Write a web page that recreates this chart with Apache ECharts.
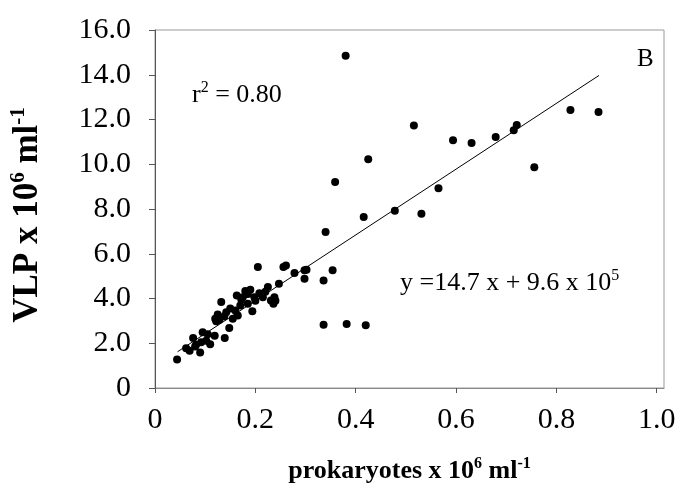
<!DOCTYPE html>
<html>
<head>
<meta charset="utf-8">
<script src="https://cdn.jsdelivr.net/npm/echarts@6/dist/echarts.min.js"></script>
<style>
  html, body { margin: 0; padding: 0; background: #fff; }
  #chart { width: 683px; height: 490px; }
</style>
</head>
<body>
<div id="chart"></div>
<script>
// prokaryotes (x 10^6 ml-1) and VLP (x 10^6 ml-1)
const prokaryotes = [
  0.380, 0.516, 0.594, 0.631, 0.679, 0.715, 0.721, 0.828, 0.884, 0.756,
  0.425, 0.359, 0.565, 0.416, 0.478, 0.531, 0.340, 0.302, 0.354, 0.336,
  0.336, 0.382, 0.420,
  0.044, 0.062, 0.069, 0.076, 0.082, 0.090, 0.095, 0.092, 0.102, 0.110,
  0.119, 0.139, 0.148, 0.122, 0.125, 0.132, 0.142, 0.155, 0.160, 0.165,
  0.170, 0.163, 0.175, 0.180, 0.185, 0.190, 0.194, 0.198, 0.205, 0.208,
  0.215, 0.225, 0.231, 0.236, 0.238, 0.247, 0.256, 0.261, 0.278, 0.298,
  0.298, 0.105, 0.128, 0.150, 0.172, 0.185, 0.200, 0.220, 0.240, 0.120,
  0.138, 0.080,
]
const vlp = [
  14.85, 11.73, 11.07, 10.95, 11.22, 11.52, 11.75, 12.43, 12.33, 9.87,
  10.22, 9.21, 8.93, 7.64, 7.92, 7.79, 6.97, 5.29, 5.26, 4.81,
  2.83, 2.86, 2.80,
  1.27, 1.78, 1.66, 2.23, 1.93, 1.59, 2.49, 2.04, 2.11, 1.96,
  2.34, 2.23, 2.68, 2.98, 3.28, 3.84, 3.38, 3.09, 3.46, 3.24,
  3.69, 4.13, 4.06, 4.33, 3.76, 4.39, 3.43, 4.06, 5.41, 4.24,
  4.06, 4.51, 3.91, 3.76, 4.06, 4.66, 5.41, 5.48, 5.14, 5.26,
  4.88, 2.40, 3.05, 3.55, 3.95, 4.20, 3.90, 4.30, 3.90, 3.10,
  3.20, 1.85,
]

// regression y = 14.7 x + 0.96 (x 10^6), drawn over the data range
const slope = 14.7
const intercept = 0.96
const fitX = [0.045, 0.885]

const xTicks = [0, 0.2, 0.4, 0.6, 0.8, 1.0]
const xTickLabels = ['0', '0.2', '0.4', '0.6', '0.8', '1.0']
const yTickLabels = ['0', '2.0', '4.0', '6.0', '8.0', '10.0', '12.0', '14.0', '16.0']

const serif = "'Liberation Serif', 'Times New Roman', serif"

const points = prokaryotes.map((x, i) => [x, vlp[i]])
const fitLine = fitX.map((x) => [x, slope * x + intercept])

function supRich(base, sup, weight) {
  return {
    a: { fontFamily: serif, fontSize: base, fontWeight: weight, color: '#000', lineHeight: base + 4 },
    s: { fontFamily: serif, fontSize: sup, fontWeight: weight, color: '#000', lineHeight: sup - 2, verticalAlign: 'top' },
  }
}

const chart = echarts.init(document.getElementById('chart'), null, { renderer: 'canvas' })

chart.setOption({
  animation: false,
  backgroundColor: '#fff',
  grid: {
    left: 153,
    right: 19,
    top: 30,
    bottom: 102,
    show: true,
    borderColor: '#9a9a9a',
    borderWidth: 1,
  },
  xAxis: {
    type: 'value',
    min: 0,
    max: 1.0145,
    name: '{a|prokaryotes x 10}{s|6}{a| ml}{s|-1}',
    nameLocation: 'middle',
    nameGap: 68,
    nameTextStyle: { rich: supRich(26, 16, 'bold') },
    axisLine: { lineStyle: { color: '#8a8a8a', width: 1 } },
    axisTick: { customValues: xTicks, length: 5, lineStyle: { color: '#555' } },
    axisLabel: {
      customValues: xTicks,
      margin: 17,
      color: '#000',
      fontFamily: serif,
      fontSize: 30,
      formatter: (v) => xTickLabels[Math.round(v / 0.2)],
    },
    splitLine: { show: false },
  },
  yAxis: {
    type: 'value',
    min: 0,
    max: 16,
    interval: 2,
    name: '{a|VLP x 10}{s|6}{a| ml}{s|-1}',
    nameLocation: 'middle',
    nameGap: 108,
    nameRotate: 90,
    nameTextStyle: { rich: supRich(35, 21, 'bold'), padding: [0, 12, 0, 0] },
    axisLine: { lineStyle: { color: '#555', width: 1 } },
    axisTick: { length: 6, lineStyle: { color: '#555' } },
    axisLabel: {
      margin: 24,
      color: '#000',
      fontFamily: serif,
      fontSize: 30,
      formatter: (v) => yTickLabels[Math.round(v / 2)],
    },
    splitLine: { show: false },
  },
  graphic: [
    {
      type: 'text',
      left: 192,
      top: 80,
      style: {
        text: '{a|r}{s|2}{a| = 0.80}',
        rich: supRich(26, 16, 'normal'),
      },
    },
    {
      type: 'text',
      left: 400,
      top: 268,
      style: {
        text: '{a|y =14.7 x + 9.6 x 10}{s|5}',
        rich: supRich(26, 16, 'normal'),
      },
    },
    {
      type: 'text',
      left: 637,
      top: 47,
      style: { text: 'B', fontFamily: serif, fontSize: 25, fill: '#000' },
    },
  ],
  series: [
    {
      type: 'line',
      data: fitLine,
      symbol: 'none',
      lineStyle: { color: '#000', width: 1 },
      z: 2,
    },
    {
      type: 'scatter',
      data: points,
      symbol: 'circle',
      symbolSize: 8,
      itemStyle: { color: '#000', opacity: 1 },
      z: 3,
    },
  ],
})
</script>
</body>
</html>
